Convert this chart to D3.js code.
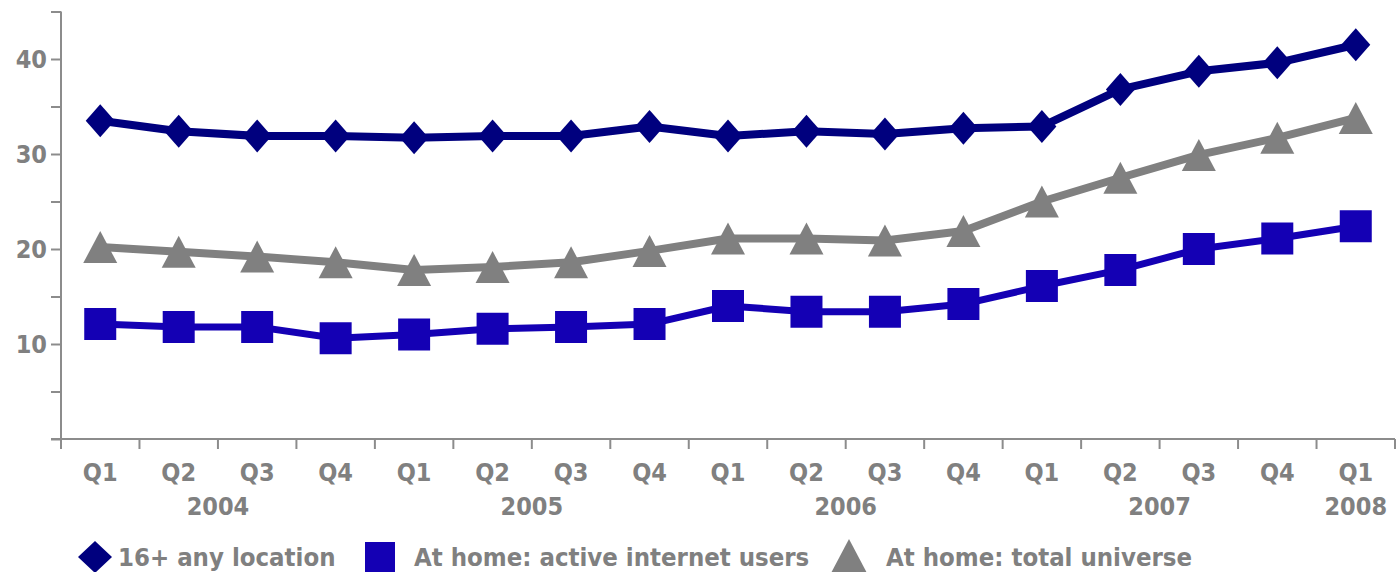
<!DOCTYPE html>
<html>
<head>
<meta charset="utf-8">
<script src="https://cdn.jsdelivr.net/npm/d3@7"></script>
<style>
  html, body { margin: 0; padding: 0; background: #ffffff; }
  svg { display: block; }
  text { font-family: "DejaVu Sans Condensed", "DejaVu Sans", sans-serif; font-stretch: condensed; font-weight: bold; fill: #808080; }
</style>
</head>
<body>
<svg id="chart" width="1400" height="572"></svg>
<script>
// Quarterly series, Q1 2004 – Q1 2008
const quarters = ["Q1","Q2","Q3","Q4","Q1","Q2","Q3","Q4","Q1","Q2","Q3","Q4","Q1","Q2","Q3","Q4","Q1"];
const years = ["2004","2005","2006","2007","2008"];
const yearStart = [0, 4, 8, 12, 16];   // first quarter index of each year
const yearEnd   = [3, 7, 11, 15, 16];  // last quarter index of each year

const anyLocation   = [33.5, 32.4, 31.9, 31.9, 31.7, 31.9, 31.9, 32.9, 31.9, 32.4, 32.1, 32.7, 32.9, 36.8, 38.7, 39.6, 41.5];
const homeActive    = [12.1, 11.8, 11.8, 10.6, 11.0, 11.6, 11.8, 12.1, 14.0, 13.4, 13.4, 14.2, 16.1, 17.8, 20.0, 21.1, 22.4];
const homeUniverse  = [20.2, 19.7, 19.2, 18.6, 17.8, 18.1, 18.6, 19.8, 21.1, 21.1, 20.9, 21.9, 25.0, 27.5, 29.9, 31.7, 33.8];

const seriesNames  = ["16+ any location", "At home: active internet users", "At home: total universe"];
const yTickValues  = [0, 5, 10, 15, 20, 25, 30, 35, 40, 45];
const yLabelValues = [10, 20, 30, 40];

(function () {
  const svg = d3.select("#chart");
  const plotLeft = 61, plotRight = 1395, plotTop = 11.5, plotBottom = 439;
  const axisColor = "#8c8c8c";

  const x = d3.scaleBand().domain(d3.range(quarters.length)).range([plotLeft, plotRight]);
  const cx = i => x(i) + x.bandwidth() / 2;
  const y = d3.scaleLinear().domain([0, 45]).range([plotBottom, plotTop]);

  // y axis
  const yAxis = svg.append("g").attr("transform", `translate(${plotLeft},0)`)
    .call(d3.axisLeft(y).tickValues(yTickValues).tickSize(10).tickFormat(""));
  yAxis.select(".domain").attr("stroke", axisColor).attr("stroke-width", 2)
    .attr("d", `M0,${plotTop}V${plotBottom + 10}`);
  yAxis.selectAll(".tick line").attr("stroke", axisColor).attr("stroke-width", 2);

  svg.append("g").selectAll("text").data(yLabelValues).join("text")
    .attr("x", 47).attr("y", d => y(d)).attr("dy", "0.36em")
    .attr("text-anchor", "end").attr("font-size", 25).text(d => d);

  // x axis with ticks at band boundaries
  const xEdges = d3.range(1, quarters.length + 1).map(i => plotLeft + i * x.bandwidth());
  const xAxis = svg.append("g");
  xAxis.append("line").attr("x1", plotLeft - 10).attr("x2", plotRight)
    .attr("y1", plotBottom).attr("y2", plotBottom)
    .attr("stroke", axisColor).attr("stroke-width", 2);
  xAxis.selectAll("line.tick").data(xEdges).join("line").attr("class", "tick")
    .attr("x1", d => d).attr("x2", d => d).attr("y1", plotBottom).attr("y2", plotBottom + 10)
    .attr("stroke", axisColor).attr("stroke-width", 2);

  svg.append("g").selectAll("text").data(quarters).join("text")
    .attr("x", (d, i) => cx(i)).attr("y", 481)
    .attr("text-anchor", "middle").attr("font-size", 25).text(d => d);

  svg.append("g").selectAll("text").data(years).join("text")
    .attr("x", (d, i) => (cx(yearStart[i]) + cx(yearEnd[i])) / 2).attr("y", 515)
    .attr("text-anchor", "middle").attr("font-size", 25).text(d => d);

  // marker shapes
  const diamond  = (w, h) => `M0,${-h/2}L${w/2},0L0,${h/2}L${-w/2},0Z`;
  const square   = (s) => `M${-s/2},${-s/2}h${s}v${s}h${-s}Z`;
  const triangle = (w, h) => `M0,${-h/2}L${w/2},${h/2}L${-w/2},${h/2}Z`;

  const series = [
    { values: homeUniverse, color: "#808080", width: 8, shape: triangle(34, 32) },
    { values: homeActive,   color: "#1400b4", width: 7, shape: square(32) },
    { values: anyLocation,  color: "#00007e", width: 8, shape: diamond(29, 33) }
  ];

  const line = d3.line().x((d, i) => cx(i)).y(d => y(d));

  series.forEach(s => {
    const g = svg.append("g");
    g.append("path").datum(s.values).attr("d", line)
      .attr("fill", "none").attr("stroke", s.color).attr("stroke-width", s.width)
      .attr("stroke-linejoin", "round");
    g.selectAll("path.m").data(s.values).join("path").attr("class", "m")
      .attr("transform", (d, i) => `translate(${cx(i)},${y(d)})`)
      .attr("d", s.shape).attr("fill", s.color);
  });

  // legend
  const legend = svg.append("g");
  const legendItems = [
    { name: seriesNames[0], color: "#00007e", shape: diamond(34, 32),  mx: 95,  tx: 118 },
    { name: seriesNames[1], color: "#1400b4", shape: square(30),       mx: 380, tx: 414 },
    { name: seriesNames[2], color: "#808080", shape: triangle(38, 36), mx: 849, tx: 886 }
  ];
  legendItems.forEach(it => {
    legend.append("path").attr("transform", `translate(${it.mx},557)`).attr("d", it.shape).attr("fill", it.color);
    legend.append("text").attr("x", it.tx).attr("y", 566).attr("font-size", 25.5).text(it.name);
  });
})();
</script>
</body>
</html>
